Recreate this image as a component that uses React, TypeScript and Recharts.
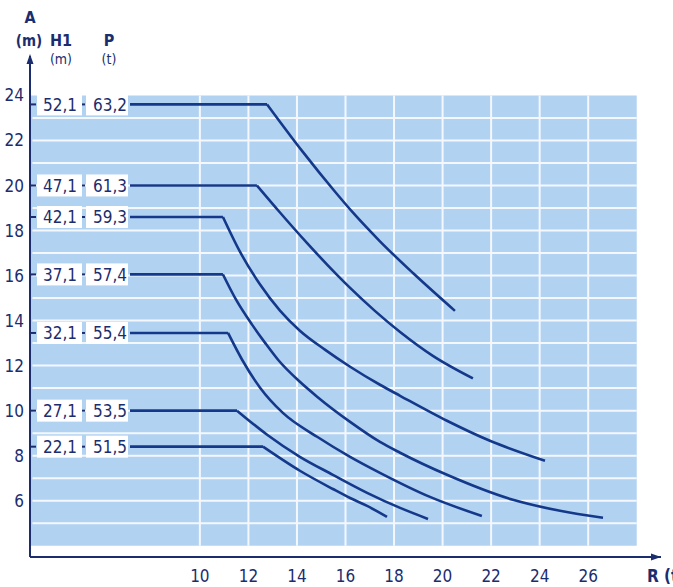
import React from 'react';
import {
  LineChart,
  Line,
  XAxis,
  YAxis,
  ReferenceArea,
  ReferenceLine,
  ReferenceDot,
  Customized,
} from 'recharts';

// ---- axis ticks / grid ----
const xTicks = [10, 12, 14, 16, 18, 20, 22, 24, 26];
const yTicks = [6, 8, 10, 12, 14, 16, 18, 20, 22, 24];
const gridRows = [5, 6, 7, 8, 9, 10, 11, 12, 13, 14, 15, 16, 17, 18, 19, 20, 21, 22, 23];
const gridCols = [10, 12, 14, 16, 18, 20, 22, 24, 26];

// ---- row labels ----
const h1Labels = ['52,1', '47,1', '42,1', '37,1', '32,1', '27,1', '22,1'];
const pLabels = ['63,2', '61,3', '59,3', '57,4', '55,4', '53,5', '51,5'];

// ---- curves: R (t) and A (m) ----
const r1 = [7.12, 12.77, 14.25, 15.57, 16.31, 17.42, 18.78, 20.51];
const a1 = [23.6, 23.6, 21.48, 19.72, 18.79, 17.52, 16.11, 14.43];

const r2 = [7.12, 12.35, 13.3, 14.41, 15.65, 16.19, 17.21, 18.25, 19.6, 21.25];
const a2 = [20.0, 20.0, 18.8, 17.45, 16.03, 15.45, 14.43, 13.49, 12.43, 11.43];

const r3 = [7.12, 10.95, 11.65, 12.48, 13.3, 14.12, 15.15, 16.19, 17.42, 18.25, 20.18, 21.95, 24.22];
const a3 = [18.6, 18.6, 17.06, 15.6, 14.44, 13.55, 12.71, 11.95, 11.15, 10.66, 9.55, 8.66, 7.77];

const r4 = [7.12, 10.95, 11.49, 12.15, 12.68, 13.22, 14.12, 14.83, 16.19, 17.42, 18.25, 20.18, 22.9, 24.84, 26.61];
const a4 = [16.05, 16.05, 14.93, 13.82, 13.02, 12.26, 11.28, 10.62, 9.5, 8.61, 8.13, 7.15, 6.04, 5.55, 5.24];

const r5 = [7.12, 11.16, 11.74, 12.48, 13.42, 14.83, 16.19, 17.42, 19.48, 21.62];
const a5 = [13.45, 13.45, 12.26, 11.02, 9.9, 8.84, 7.95, 7.24, 6.17, 5.32];

const r6 = [7.12, 11.53, 12.77, 14.12, 15.48, 16.89, 18.25, 19.4];
const a6 = [10.0, 10.0, 8.93, 7.95, 7.15, 6.35, 5.68, 5.19];

const r7 = [7.12, 12.6, 14.12, 15.48, 16.19, 16.89, 17.71];
const a7 = [8.4, 8.4, 7.33, 6.52, 6.12, 5.77, 5.28];

const curveR = [r1, r2, r3, r4, r5, r6, r7];
const curveA = [a1, a2, a3, a4, a5, a6, a7];

// ---- styles ----
const NAVY = '#1b2d6e';
const LINE = '#15398a';
const BLUE = '#b2d2f2';
const GRID = '#f4f8fd';
const FONT = "'Liberation Sans Narrow', 'DejaVu Sans Condensed', 'Liberation Sans', Arial, sans-serif";

const series = curveR.map((rs, i) => rs.map((r, j) => ({ r, a: curveA[i][j] })));
// flat part (start -> knee) and descending part (knee -> end)
const flats = series.map((s) => s.slice(0, 2));
const descents = series.map((s) => s.slice(1));

const makeDot = (i: number) => (props: any) => {
  const { cx, cy, index } = props;
  if (index !== 0 || cx == null || cy == null) return <g key={`d-${i}-${index}`} />;
  return (
    <g key={`d-${i}-${index}`}>
      <rect x={cx - 93} y={cy - 11} width={45} height={22} fill="#ffffff" />
      <rect x={cx - 44} y={cy - 11} width={42} height={22} fill="#ffffff" />
      <line x1={cx - 99} x2={cx - 94} y1={cy} y2={cy} stroke={NAVY} strokeWidth={2} />
      <line x1={cx - 48} x2={cx - 45} y1={cy} y2={cy} stroke={NAVY} strokeWidth={2} />
      <text x={cx - 87} y={cy} dy="0.36em" fill={NAVY} fontSize={17} fontFamily={FONT}>
        {h1Labels[i]}
      </text>
      <text x={cx - 37} y={cy} dy="0.36em" fill={NAVY} fontSize={17} fontFamily={FONT}>
        {pLabels[i]}
      </text>
    </g>
  );
};

const ArrowUp = (props: any) => {
  const { cx, cy } = props;
  return <path d={`M${cx},${cy - 2} L${cx - 3.5},${cy + 8} L${cx + 3.5},${cy + 8} Z`} fill={NAVY} />;
};
const ArrowRight = (props: any) => {
  const { cx, cy } = props;
  return <path d={`M${cx},${cy} L${cx - 10},${cy - 3.5} L${cx - 10},${cy + 3.5} Z`} fill={NAVY} />;
};

const Headers = () => (
  <g fontFamily={FONT} fill={NAVY}>
    <text x={30} y={23} textAnchor="middle" fontSize={16} fontWeight="bold">A</text>
    <text x={29} y={46} textAnchor="middle" fontSize={15} fontWeight="bold">(m)</text>
    <text x={61} y={46} textAnchor="middle" fontSize={16} fontWeight="bold">H1</text>
    <text x={61} y={64} textAnchor="middle" fontSize={14}>(m)</text>
    <text x={109} y={46} textAnchor="middle" fontSize={16} fontWeight="bold">P</text>
    <text x={109} y={64} textAnchor="middle" fontSize={14}>(t)</text>
    <text x={647} y={582} fontSize={17} fontWeight="bold">R (t)</text>
  </g>
);

export default function App() {
  return (
    <div style={{ position: 'absolute', left: 0, top: 0, width: 673, height: 587, overflow: 'hidden', background: '#fff' }}>
      <LineChart width={673} height={587} margin={{ top: 56, right: 12, bottom: 0, left: 0 }}>
        <XAxis
          type="number"
          dataKey="r"
          domain={[3, 29]}
          ticks={xTicks}
          interval={0}
          height={30}
          tickLine={false}
          tickSize={6}
          tickMargin={7}
          axisLine={{ stroke: NAVY, strokeWidth: 2 }}
          tick={{ fill: NAVY, fontSize: 17, fontFamily: FONT }}
        />
        <YAxis
          type="number"
          domain={[3.5, 25.75]}
          ticks={yTicks}
          interval={0}
          width={30}
          tickLine={false}
          tickSize={6}
          tickMargin={0}
          axisLine={{ stroke: NAVY, strokeWidth: 2 }}
          tick={{ fill: NAVY, fontSize: 17, fontFamily: FONT }}
        />
        <ReferenceArea x1={3} x2={28} y1={4} y2={24} fill={BLUE} fillOpacity={1} stroke="none" />
        {gridRows.map((v) => (
          <ReferenceLine
            key={`gr-${v}`}
            segment={[{ x: 3.1, y: v }, { x: 28, y: v }]}
            stroke={GRID}
            strokeWidth={2}
          />
        ))}
        {gridCols.map((v) => (
          <ReferenceLine
            key={`gc-${v}`}
            segment={[{ x: v, y: 4 }, { x: v, y: 24 }]}
            stroke={GRID}
            strokeWidth={2}
          />
        ))}
        {descents.map((d, i) => (
          <Line
            key={`c-${i}`}
            data={d}
            dataKey="a"
            type="monotone"
            stroke={LINE}
            strokeWidth={2.6}
            dot={false}
            activeDot={false}
            isAnimationActive={false}
          />
        ))}
        {flats.map((d, i) => (
          <Line
            key={`f-${i}`}
            data={d}
            dataKey="a"
            type="linear"
            stroke={LINE}
            strokeWidth={2.6}
            dot={makeDot(i)}
            activeDot={false}
            isAnimationActive={false}
          />
        ))}
        <ReferenceDot x={3} y={25.75} r={0} shape={ArrowUp} />
        <ReferenceDot x={29} y={3.5} r={0} shape={ArrowRight} />
        <Customized component={Headers} />
      </LineChart>
    </div>
  );
}
